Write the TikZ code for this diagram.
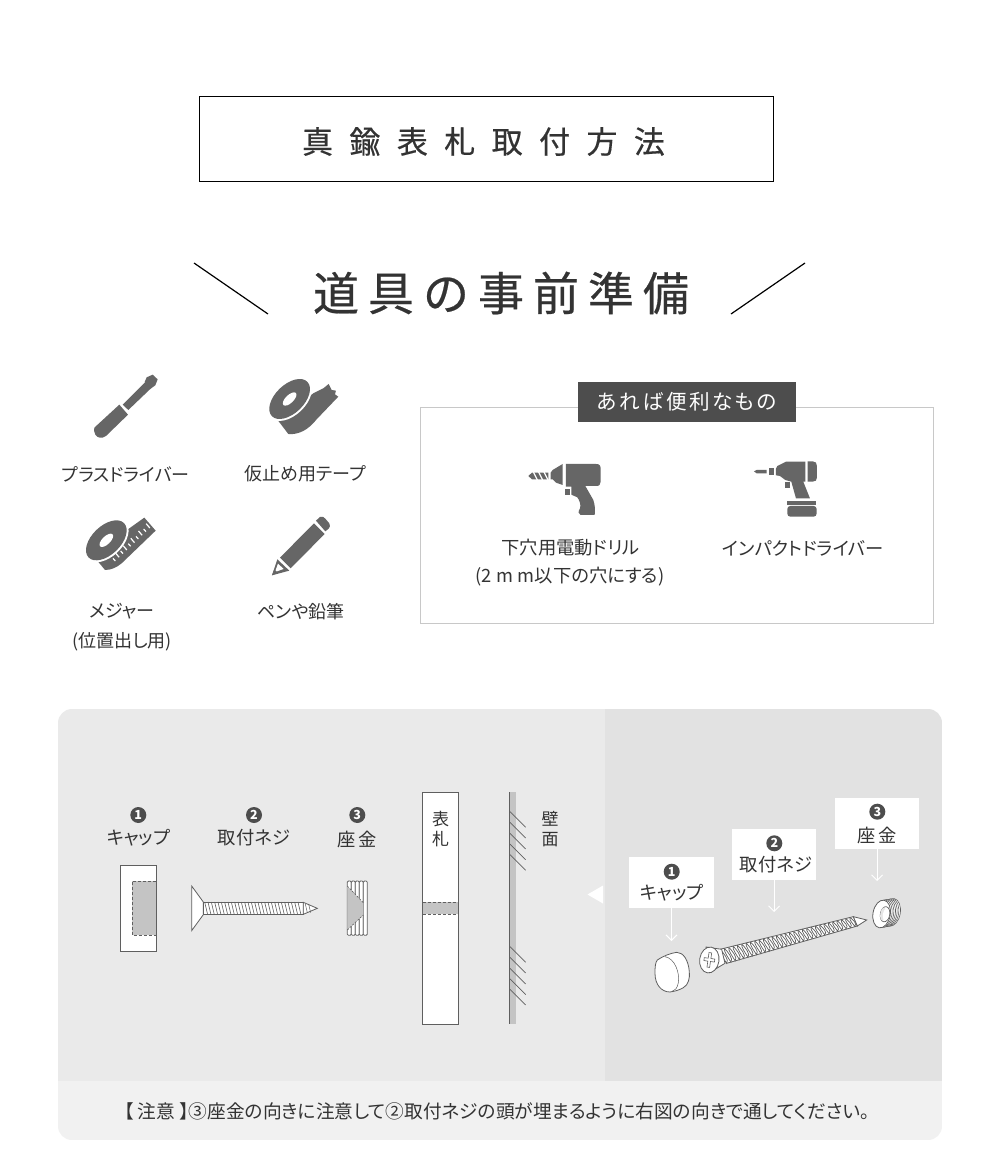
\documentclass[tikz,border=0pt]{standalone}
\usepackage{fontspec}
\setmainfont[RawFeature=+palt]{Noto Sans CJK JP}
\newfontfamily\headf[FakeBold=0.5]{Noto Sans CJK JP}
\usetikzlibrary{arrows.meta}
\definecolor{ink}{HTML}{333333}
\definecolor{icon}{HTML}{666666}
\definecolor{dark}{HTML}{4D4D4D}
\definecolor{frame}{HTML}{C8C8C8}
\definecolor{panelL}{HTML}{EAEAEA}
\definecolor{panelR}{HTML}{E2E2E2}
\definecolor{panelB}{HTML}{F1F1F1}
\definecolor{mid}{HTML}{C4C4C4}
\definecolor{edge}{HTML}{5F5F5F}
\newcommand{\fs}[1]{\fontsize{#1}{#1}\selectfont}
\tikzset{
 txt/.style={inner sep=0pt,text=ink,font=\fs{18},align=center},
 lbl/.style={inner sep=0pt,text=ink,font=\fs{18.3},align=center},
 num/.style={circle,fill=dark,text=white,inner sep=0pt,minimum size=16pt,font=\fs{12.5}\bfseries},
 callout/.style={fill=white,minimum width=84.7pt,minimum height=51pt,inner sep=0pt},
 pointer/.style={white,line width=.9pt,-{Straight Barb[width=11pt,length=5.5pt]}},
 part/.style={draw=edge,line width=.8pt,fill=white},
 hatchline/.style={draw=edge,line width=.7pt},
 zoomA/.style={shift={(40pt,-360pt)},x=.3333pt,y=-.3333pt},
 zoomB/.style={shift={(420pt,-370pt)},x=.3333pt,y=-.3333pt},
 zoomC/.style={shift={(90pt,-780pt)},x=.3333pt,y=-.3333pt},
 zoomD/.style={shift={(400pt,-780pt)},x=.3333pt,y=-.3333pt},
 zoomE/.style={shift={(620pt,-790pt)},x=.3333pt,y=-.3333pt},
}
\begin{document}
\begin{tikzpicture}[x=1pt,y=-1pt]
\useasboundingbox (0,0) rectangle (1000,1166);
\fill[white] (0,0) rectangle (1000,1166);

% title
\node[draw=black,line width=.8pt,minimum width=574.5pt,minimum height=85pt,inner sep=0pt] (titlebox) at (486.5,139) {};
\node[inner sep=0pt,text=ink,font=\headf\fs{31}] (title) at (483.5,141.5) {真\hspace{16.4pt}鍮\hspace{16.4pt}表\hspace{16.4pt}札\hspace{16.4pt}取\hspace{16.4pt}付\hspace{16.4pt}方\hspace{16.4pt}法};
\node[inner sep=0pt,text=ink,font=\headf\fs{46}] (head) at (501,293) {道\hspace{9pt}具\hspace{9pt}の\hspace{9pt}事\hspace{9pt}前\hspace{9pt}準\hspace{9pt}備};
\coordinate (l1) at (194,263); \coordinate (l2) at (268,314);
\coordinate (r1) at (805,263); \coordinate (r2) at (731,314);
\draw[black,line width=1.2pt] (l1) -- (l2);
\draw[black,line width=1.2pt] (r1) -- (r2);

% screwdriver
\begin{scope}[zoomA]
\fill[icon] (163,203) -- (238,134) -- (264,164) -- (198,228) .. controls (186,237) and (172,234) .. (166,224) .. controls (162,216) and (161,209) .. (163,203) -- cycle;
\fill[icon] (248,134) -- (316,66) -- (334,84) -- (265,150) -- cycle;
\fill[icon] (314,66) -- (320,52) -- (338,44) -- (353,58) -- (346,76) -- (332,86) -- cycle;
% tape
\fill[icon] (713,180) -- (745,222) .. controls (775,225) and (805,210) .. (830,178) -- (895,110) -- (885,103) -- (888,92) -- (875,90) -- (866,72) -- (850,85) -- (820,100) -- cycle;
\begin{scope}[shift={(749,117)},rotate=44]
\fill[white] (0,0) ellipse [x radius=80,y radius=49];
\fill[icon] (0,0) ellipse [x radius=74,y radius=43];
\fill[white] (0,0) ellipse [x radius=26,y radius=12];
\end{scope}
% measure
\fill[icon] (162,590) -- (195,630) .. controls (215,630) and (230,622) .. (245,610) -- (347,512) -- (313,473) -- (240,525) -- cycle;
\foreach \t in {0,...,9}{
  \draw[white,line width=1.2pt] ({226+\t*11.5},{603-\t*11}) -- ++({-7-mod(\t,2)*4},{-8-mod(\t,2)*5});
}
\begin{scope}[shift={(199,541)},rotate=44]
\fill[white] (0,0) ellipse [x radius=80,y radius=49];
\fill[icon] (0,0) ellipse [x radius=74,y radius=43];
\fill[white] (0,0) ellipse [x radius=26,y radius=12];
\end{scope}
% pencil
\fill[icon] (828,482) -- (840,471) .. controls (848,468) and (852,472) .. (856,476) -- (868,490) .. controls (872,496) and (870,502) .. (866,506) -- (856,514) -- cycle;
\fill[icon] (822,490) -- (854,522) -- (752,625) -- (720,593) -- cycle;
\fill[icon] (696,646) -- (712,598) -- (748,632) -- cycle;
\fill[white] (705,636) -- (714,611) -- (731,627) -- cycle;
\fill[icon] (696,646) -- (703,628) -- (713,638) -- cycle;
\end{scope}

\node[txt] (t1) at (125.8,474) {プラスドライバー};
\node[txt] (t2) at (305,474) {仮止め用テープ};
\node[txt] (t3) at (121.7,611.5) {メジャー};
\node[txt] (t3b) at (122,641.5) {(位置出し用)};
\node[txt] (t4) at (301,611.5) {ペンや鉛筆};

% optional box
\node[draw=frame,line width=1pt,minimum width=513pt,minimum height=216pt,inner sep=0pt] (optbox) at (676.5,515) {};
\node[fill=dark,minimum width=218pt,minimum height=40pt,inner sep=0pt,text=white,font=\fs{20.6}] (opttitle) at (687,402) {あ\hspace{2.5pt}れ\hspace{2.5pt}ば\hspace{2.5pt}便\hspace{2.5pt}利\hspace{2.5pt}な\hspace{2.5pt}も\hspace{2.5pt}の};

\begin{scope}[zoomB]
% drill
\fill[icon] (325,318) -- (336,308) -- (385,308) -- (385,328) -- (336,328) -- cycle;
\foreach \x in {340,356,372}{\draw[white,line width=1.2pt] (\x,306) -- (\x+12,330);}
\fill[icon] (392,308) -- (398,300) -- (428,282) -- (428,345) -- (408,338) -- (398,328) -- (392,328) -- cycle;
\fill[icon] (438,282) -- (528,282) .. controls (538,282) and (542,286) .. (542,296) -- (542,335) .. controls (542,344) and (538,348) .. (528,348) -- (496,348) -- (520,390) .. controls (525,405) and (526,420) .. (524,435) -- (482,435) .. controls (474,433) and (474,425) .. (480,415) .. controls (484,405) and (478,390) .. (472,382) -- (454,374) -- (454,350) -- (438,350) -- cycle;
\fill[icon] (435,357) -- (450,357) -- (450,375) -- (435,375) -- cycle;
% impact
\fill[icon] (1002,304) -- (1010,300) -- (1040,300) -- (1040,310) -- (1010,310) -- cycle;
\fill[icon] (1046,295) -- (1062,295) -- (1062,316) -- (1046,316) -- cycle;
\fill[icon] (1068,296) -- (1072,288) -- (1098,275) -- (1156,275) -- (1156,335) -- (1150,335) -- (1170,385) -- (1128,385) -- (1114,335) -- (1096,330) -- (1080,318) -- (1068,316) -- cycle;
\fill[icon] (1096,336) -- (1110,336) -- (1110,355) -- (1096,355) -- cycle;
\fill[icon] (1163,274) -- (1178,274) .. controls (1187,274) and (1191,279) .. (1191,288) -- (1191,322) .. controls (1191,331) and (1187,335) .. (1178,335) -- (1163,335) -- cycle;
\fill[icon] (1102,393) -- (1188,393) -- (1188,405) -- (1102,405) -- cycle;
\fill[icon,rounded corners=3pt] (1102,408) -- (1190,408) -- (1190,440) -- (1102,440) -- cycle;
\end{scope}

\node[lbl] (t5) at (570.5,548) {下穴用電動ドリル};
\node[lbl] (t5b) at (570,577) {(2\hspace{4.5pt}m\hspace{4.5pt}m以下の穴にする)};
\node[lbl] (t6) at (803,548) {インパクトドライバー};

% panels
\begin{scope}
\clip[rounded corners=14pt] (58,709) rectangle (942,1140);
\fill[panelL] (58,709) rectangle (605,1081);
\fill[panelR] (605,709) rectangle (942,1081);
\fill[panelB] (58,1081) rectangle (942,1140);
\end{scope}
\node[inner sep=0pt,text=ink,font=\fs{18.7}] (note) at (497,1111) {【 注意 】③座金の向きに注意して②取付ネジの頭が埋まるように右図の向きで通してください。};

% left labels
\node[num] (n1) at (138.3,815) {1};
\node[lbl] (c1) at (138.5,838) {キャップ};
\node[num] (n2) at (254,815) {2};
\node[lbl] (c2) at (254,838) {取付ネジ};
\node[num] (n3) at (357.3,815) {3};
\node[lbl] (c3) at (357.3,839) {座\hspace{3pt}金};

\begin{scope}[zoomC]
% cap section
\fill[white,draw=edge,line width=.8pt] (91,257) rectangle (198,513);
\fill[mid] (126,303) rectangle (198,466);
\draw[edge,line width=.8pt,dash pattern=on 3pt off 2pt] (198,303) -- (126,303) -- (126,466) -- (198,466);
% screw section
\draw[part] (305,318) -- (340,366) -- (340,404) -- (305,452) -- cycle;
\draw[part] (340,366) rectangle (640,404);
\foreach \x in {344,354,...,630}{\draw[edge,line width=.6pt] (\x,366) -- (\x+9,404);}
\draw[part] (640,367) -- (682,385) -- (640,403) -- cycle;
\foreach \x in {646,656}{\draw[edge,line width=.5pt] (\x,372) -- (\x+6,398);}
% washer section
\foreach \x in {772,784,796,808,820}{\draw[part,rounded corners=1.2pt] (\x,303) rectangle (\x+12,466);}
\fill[mid] (772,318) -- (820,368) -- (820,405) -- (772,450) -- cycle;
\draw[edge,line width=.6pt,dash pattern=on 2pt off 1.5pt] (772,318) -- (820,368) (772,450) -- (820,405);
\end{scope}

\begin{scope}[zoomD]
\draw[part] (68,36) rectangle (176,733);
\fill[mid] (68,366) rectangle (176,403);
\draw[edge,line width=.8pt,dash pattern=on 3pt off 2pt] (68,366) -- (176,366) (68,403) -- (176,403);
\draw[edge,line width=.8pt] (68,366) -- (68,403) (176,366) -- (176,403);
\fill[mid] (329,36) rectangle (348,731);
\draw[edge,line width=1pt] (329,36) -- (329,731);
\foreach \y in {95,127,160,192,224,500,532,565,597,628}{\draw[hatchline] (330,\y) -- (377,\y+47);}
\end{scope}
\node[inner sep=0pt,text=ink,font=\fs{17},align=center] (plate) at (440.5,829) {表\\[3.5pt]札};
\node[inner sep=0pt,text=ink,font=\fs{17},align=center] (wall) at (550,829) {壁\\[3.5pt]面};
\coordinate (tri1) at (603,885.5); \coordinate (tri2) at (587.5,894.5); \coordinate (tri3) at (603,903.5);
\fill[white] (tri1) -- (tri2) -- (tri3) -- cycle;

% right callouts
\node[callout] (b1) at (671.5,882.5) {};
\node[callout] (b2) at (774,854) {};
\node[callout] (b3) at (877,823) {};
\node[num] (m1) at (671.7,871.7) {1};
\node[lbl] (k1) at (671.7,892.7) {キャップ};
\node[num] (m2) at (774.3,843.3) {2};
\node[lbl] (k2) at (776,864.5) {取付ネジ};
\node[num] (m3) at (877.3,811.7) {3};
\node[lbl] (k3) at (877.3,835) {座\hspace{3pt}金};
\coordinate (a1) at (671.5,941);
\coordinate (a2) at (774,912);
\coordinate (a3) at (877,881);
\draw[pointer] (b1.south) -- (a1);
\draw[pointer] (b2.south) -- (a2);
\draw[pointer] (b3.south) -- (a3);

\begin{scope}[zoomE]
% cap
\draw[part] (112,510) .. controls (130,498) and (150,490) .. (170,487) .. controls (190,487) and (205,510) .. (208,545) .. controls (210,565) and (205,585) .. (190,593) .. controls (178,600) and (165,604) .. (150,606) .. controls (125,606) and (105,585) .. (105,550) .. controls (105,530) and (106,518) .. (112,510) -- cycle;
\draw[edge,line width=.5pt] (135,500) .. controls (165,505) and (180,550) .. (175,578) .. controls (172,595) and (165,602) .. (155,605);
% iso screw
\draw[part] (300,478) -- (700,380) -- (712,408) -- (320,520) -- cycle;
\draw[part] (700,380) -- (740,390) -- (712,408) -- cycle;
\foreach \t in {0,...,30}{
  \pgfmathsetmacro{\ax}{300+\t*13}
  \pgfmathsetmacro{\ay}{478-\t*3.2}
  \pgfmathsetmacro{\bx}{320+\t*12.8}
  \pgfmathsetmacro{\by}{520-\t*3.7}
  \draw[edge,line width=.7pt,fill=white] (\ax,\ay) .. controls (\ax+9,\ay+8) and (\bx+9,\by-8) .. (\bx,\by) .. controls (\bx-5,\by-8) and (\ax-3,\ay+8) .. (\ax,\ay);
}
\draw[part] (258,471) -- (305,478) -- (315,520) -- (268,548) -- cycle;
\begin{scope}[shift={(268,510)},rotate=-8]
\draw[part] (0,0) ellipse [x radius=29,y radius=39];
\draw[edge,line width=.6pt,fill=white] (-4,-22) -- (4,-22) -- (4,-5) -- (16,-5) -- (16,4) -- (4,4) -- (4,22) -- (-4,22) -- (-4,4) -- (-16,4) -- (-16,-5) -- (-4,-5) -- cycle;
\end{scope}
% iso washer
\foreach \d in {30,25,20,15,10,5}{
  \begin{scope}[shift={(785+\d,372-\d/6)},rotate=-10]
  \draw[part,line width=.6pt] (0,0) ellipse [x radius=26,y radius=42];
  \end{scope}
}
\begin{scope}[shift={(785,372)},rotate=-10]
\draw[part] (0,0) ellipse [x radius=26,y radius=42];
\fill[white,draw=edge,line width=.7pt] (10,-1) ellipse [x radius=14,y radius=23];
\fill[mid!40!white] (4,-1) ellipse [x radius=8,y radius=20];
\fill[white] (13,-1) ellipse [x radius=9,y radius=19];
\end{scope}
\end{scope}
\end{tikzpicture}
\end{document}
